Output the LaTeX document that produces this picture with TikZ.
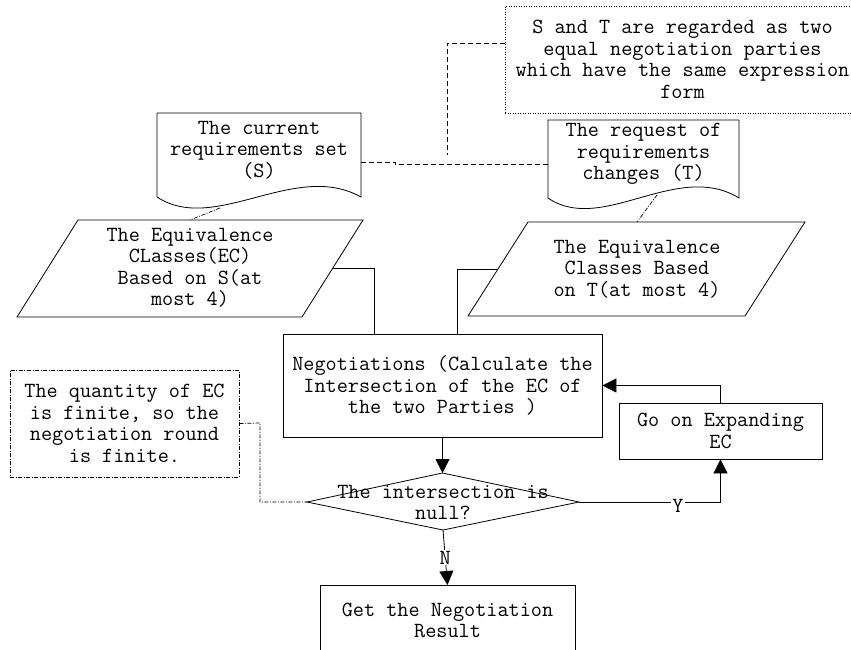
\documentclass[tikz,border=0pt]{standalone}
\usepackage{fontspec}
\usetikzlibrary{arrows.meta}

\begin{document}
\begin{tikzpicture}[x=1pt,y=-1pt,
        every node/.style={font=\ttfamily\fontsize{21.6}{21.5}\selectfont,align=center,inner sep=0pt},
        box/.style={draw,line width=0.8pt},
        link/.style={line width=0.8pt},
        arr/.style={line width=0.8pt,-{Triangle[width=14pt,length=14pt]}},
        dashlink/.style={line width=0.7pt,dash pattern=on 5pt off 3pt},
        dotlink/.style={line width=0.7pt,dash pattern=on 4pt off 1.5pt on 1pt off 1.5pt}]
    \useasboundingbox (0,0) rectangle (851,649);
    \clip (0,0) rectangle (851,649);
    % notes
    \node[draw,line width=0.7pt,dash pattern=on 1pt off 1.5pt,minimum width=355,minimum height=107] (note) at (682.5,59.5)
        {S and T are regarded as two\\equal negotiation parties\\which have the same expression\\form};
    \node[draw,dotlink,minimum width=229,minimum height=107] (fin) at (124.5,423.5)
        {The quantity of EC\\is finite, so the\\negotiation round\\is finite.};
    % the two documents
    \draw[link] (157,113) -- (361,113) -- (361,197) .. controls (295,160) and (215,235) .. (157,197) -- cycle;
    \draw[link] (548,120) -- (739,120) -- (739,198) .. controls (677,160) and (602,235) .. (548,198) -- cycle;
    \node (curS) at (259,150) {The current\\requirements set\\(S)};
    \node (reqT) at (643.5,154) {The request of\\requirements\\changes (T)};
    \coordinate (curS-r) at (361,162);
    \coordinate (curS-b) at (220,208);
    \coordinate (reqT-l) at (548,164);
    \coordinate (reqT-b) at (657,195);
    \coordinate (brace) at (447,155);
    % the two parallelograms
    \draw[link] (78,220) -- (363,220) -- (302,317) -- (17,317) -- cycle;
    \draw[link] (528,222) -- (805,222) -- (745,316) -- (468,316) -- cycle;
    \node (eqS) at (190,268) {The Equivalence\\CLasses(EC)\\Based on S(at\\most 4)};
    \node (eqT) at (637,269) {The Equivalence\\Classes Based\\on T(at most 4)};
    \coordinate (eqS-t) at (190,220);
    \coordinate (eqS-r) at (333,268);
    \coordinate (eqT-t) at (637,222);
    \coordinate (eqT-l) at (497,269);
    % process boxes
    \node[box,minimum width=319,minimum height=103] (neg) at (442.5,385.5)
        {Negotiations (Calculate the\\Intersection of the EC of\\the two Parties )};
    \node[box,minimum width=203,minimum height=56] (exp) at (720.5,431) {Go on Expanding\\EC};
    \node[box,minimum width=255,minimum height=70,anchor=north] (res) at (447.5,585)
        {Get the Negotiation\\Result};
    % decision
    \coordinate (dtop) at (442.5,473);
    \coordinate (dleft) at (307,502);
    \coordinate (dright) at (579,502);
    \coordinate (dbot) at (443,530);
    \draw[link] (dtop) -- (dright) -- (dbot) -- (dleft) -- cycle;
    \node (dec) at (443,502.5) {The intersection is\\null?};
    % connectors
    \draw[dashlink] ([yshift=16.5pt]note.west) -| (brace);
    \draw[dashlink] (curS-r) -- (395,162) -- (395,164) -- (reqT-l);
    \draw[dotlink] (curS-b) -- (eqS-t);
    \draw[dotlink] (reqT-b) -- (eqT-t);
    \draw[link] (eqS-r) -| ([xshift=-68.5pt]neg.north);
    \draw[link] (eqT-l) -| ([xshift=14.5pt]neg.north);
    \draw[arr] (neg.south) -- (dtop);
    \draw[arr] (exp.north) |- (neg.east);
    \draw[arr] (dright) -| node[pos=0.35,fill=white,inner sep=1pt,yshift=-4pt] {Y} (exp.south);
    \draw[arr] (dbot) -- node[fill=white,inner sep=1pt] {N} (res.north);
    \draw[dotlink] (fin.east) -- (260,423) -- (260,502) -- (dleft);
\end{tikzpicture}
\end{document}
